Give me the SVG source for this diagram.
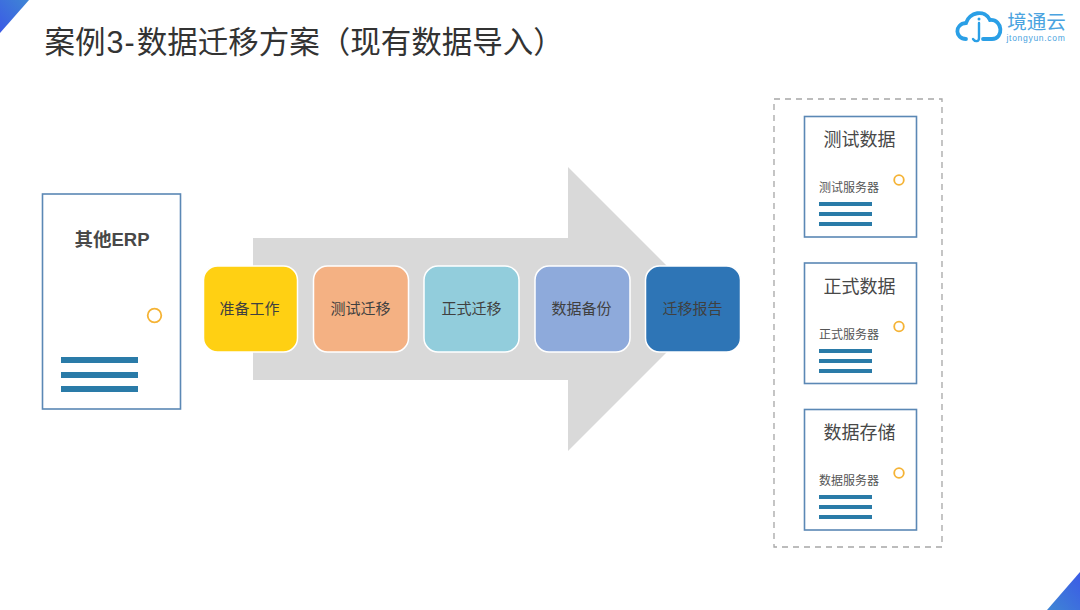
<svg xmlns="http://www.w3.org/2000/svg" width="1080" height="610" viewBox="0 0 1080 610">
<style>
text{font-family:"Liberation Sans","Noto Sans CJK SC",sans-serif;fill:#404040;text-anchor:middle}
.card{fill:#fff;stroke:#5b88b5;stroke-width:1.6}
.bar{fill:#2a7ba8}
.dot{fill:#fff;stroke:#f5b335;stroke-width:1.8}
.step{stroke:#fff;stroke-width:1.5}
.big{font-size:18px;fill:#484848}
.step-t{font-size:15px}
.small{font-size:12px;fill:#555}
</style>
<defs>
<linearGradient id="g1" x1="1" y1="0" x2="0" y2="1"><stop offset="0" stop-color="#3f86d4"/><stop offset="1" stop-color="#3b5ae6"/></linearGradient>
<linearGradient id="g2" x1="0" y1="1" x2="1" y2="0"><stop offset="0" stop-color="#3f86d4"/><stop offset="1" stop-color="#3b5ae6"/></linearGradient>
</defs>
<rect width="1080" height="610" fill="#fff"/>
<polygon points="0,0 29,0 0,33" fill="url(#g1)"/>
<polygon points="1047,610 1080,572 1080,610" fill="url(#g2)"/>
<text x="44.500" y="53" style="font-size:30.500px;fill:#333;text-anchor:start">案例<tspan dx="1">3</tspan><tspan dx="1">-</tspan><tspan dx="2">数据迁移方案（现有数据导入）</tspan></text>
<g id="logo">
<path d="M966 39 C955 39 954 24 966 23 C969 12 985 9 990 20 C1003 19 1004 39 992 39 L983 39" fill="none" stroke="#2a9fe6" stroke-width="3.8" stroke-linecap="round"/>
<circle cx="979" cy="19" r="1.500" fill="#2a9fe6"/>
<path d="M979 23 V38 C979 42 975 42 973 39" fill="none" stroke="#2a9fe6" stroke-width="2.400" stroke-linecap="round"/>
<text x="1036.500" y="29" style="font-size:19.500px;fill:#4aa3e0">境通云</text>
<text x="1036" y="41" style="font-size:8.500px;fill:#4aa3e0;letter-spacing:.7px">jtongyun.com</text>
</g>
<g id="arrow"><polygon points="253,238 568,238 568,167 710,309 568,451 568,380 253,380" fill="#d9d9d9"/></g>
<g id="erp">
<rect class="card" x="42.500" y="194" width="138" height="215"/>
<text x="112" y="245.500" style="font-size:18.500px;font-weight:bold;fill:#484848">其他ERP</text>
<circle class="dot" cx="154.500" cy="315.500" r="6.800"/>
<rect class="bar" x="61" y="357" width="77" height="6"/>
<rect class="bar" x="61" y="372" width="77" height="6"/>
<rect class="bar" x="61" y="386" width="77" height="6"/>
</g>
<g id="step1"><rect class="step" x="203.500" y="266" width="94" height="86" rx="14" fill="#ffd013"/><text class="step-t" x="249.500" y="314">准备工作</text></g>
<g id="step2"><rect class="step" x="313.500" y="266" width="95" height="86" rx="14" fill="#f4b183"/><text class="step-t" x="360.500" y="314">测试迁移</text></g>
<g id="step3"><rect class="step" x="424" y="266" width="95" height="86" rx="14" fill="#92cddc"/><text class="step-t" x="471.500" y="314">正式迁移</text></g>
<g id="step4"><rect class="step" x="535" y="266" width="95" height="86" rx="14" fill="#8eaadb"/><text class="step-t" x="581.500" y="314">数据备份</text></g>
<g id="step5"><rect class="step" x="645.500" y="266" width="95" height="86" rx="14" fill="#2e75b6"/><text class="step-t" x="692.500" y="314">迁移报告</text></g>
<g id="group-box"><rect x="774" y="99" width="168" height="448" fill="none" stroke="#a6a6a6" stroke-width="1.3" stroke-dasharray="6 5"/></g>
<g id="test">
<rect class="card" x="804.500" y="116.500" width="112" height="120.500"/>
<text class="big" x="859.500" y="146">测试数据</text>
<circle class="dot" cx="899" cy="180" r="4.800"/>
<text class="small" x="849" y="192">测试服务器</text>
<rect class="bar" x="819" y="202" width="53" height="4"/><rect class="bar" x="819" y="212" width="53" height="4"/><rect class="bar" x="819" y="222" width="53" height="4"/>
</g>
<g id="prod">
<rect class="card" x="804.500" y="263" width="112" height="120.500"/>
<text class="big" x="859.500" y="292.500">正式数据</text>
<circle class="dot" cx="899" cy="326.500" r="4.800"/>
<text class="small" x="849" y="338.500">正式服务器</text>
<rect class="bar" x="819" y="349" width="53" height="4"/><rect class="bar" x="819" y="359" width="53" height="4"/><rect class="bar" x="819" y="369" width="53" height="4"/>
</g>
<g id="storage">
<rect class="card" x="804.500" y="409.500" width="112" height="120.500"/>
<text class="big" x="859.500" y="438.500">数据存储</text>
<circle class="dot" cx="899" cy="473" r="4.800"/>
<text class="small" x="849" y="485">数据服务器</text>
<rect class="bar" x="819" y="495" width="53" height="4"/><rect class="bar" x="819" y="505" width="53" height="4"/><rect class="bar" x="819" y="515" width="53" height="4"/>
</g>
</svg>
